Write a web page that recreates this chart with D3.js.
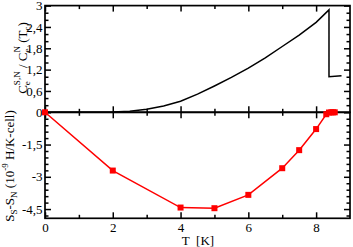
<!DOCTYPE html>
<html><head><meta charset="utf-8">
<script src="https://cdn.jsdelivr.net/npm/d3@7"></script>
<style>
html,body{margin:0;padding:0;background:#fff;}
svg{display:block;}
text{font-family:"Liberation Serif","Times New Roman",serif;fill:#000;}
</style></head>
<body>
<svg id="c" width="353" height="247"></svg>
<script>
// ---- data ----
const topT = [0, 1, 2, 2.5, 3, 3.5, 4, 4.5, 5, 5.5, 6, 6.5, 7, 7.5, 8, 8.38, 8.38, 8.75];
const topC = [0, 0, 0.005, 0.03, 0.085, 0.18, 0.31, 0.51, 0.74, 0.98, 1.24, 1.53, 1.85, 2.17, 2.53, 2.88, 1.0, 1.03];
const botT = [0, 2, 4, 5, 6, 7, 7.5, 8, 8.3, 8.38, 8.45, 8.5, 8.55];
const botS = [0, -2.71, -4.43, -4.46, -3.84, -2.60, -1.76, -0.78, -0.09, -0.01, 0, 0, 0];
const xMajor = [0, 2, 4, 6, 8];
const xMinor = [1, 3, 5, 7];
const xLabels = ["0", "2", "4", "6", "8"];
const topMajor = [0, 0.6, 1.2, 1.8, 2.4, 3];
const topLabels = ["0", "0,6", "1,2", "1,8", "2,4", "3"];
const topMinor = [0.2, 0.4, 0.8, 1.0, 1.4, 1.6, 2.0, 2.2, 2.6, 2.8];
const botMajor = [-1.5, -3, -4.5];
const botLabels = ["-1,5", "-3", "-4,5"];
const botMinor = [-0.3, -0.6, -0.9, -1.2, -1.8, -2.1, -2.4, -2.7, -3.3, -3.6, -3.9, -4.2, -4.8];

const svg = d3.select("#c");
const x = d3.scaleLinear().domain([0, 9]).range([45, 350]);
const yT = d3.scaleLinear().domain([0, 3]).range([112.3, 5.6]);
const yB = d3.scaleLinear().domain([-4.93, 0]).range([218.3, 112.3]);

const MAJ = 6, MIN = 3.5;
function styleAxis(g){
  g.select(".domain").remove();
  g.selectAll(".tick line").attr("stroke","#000").attr("stroke-width",1.5);
  g.selectAll("text").attr("font-size",13).attr("font-family",'"Liberation Serif","Times New Roman",serif');
}
function addAxis(gen, tr){
  svg.append("g").attr("transform", tr).call(gen).call(styleAxis);
}
const xL = x.range()[0], xR = x.range()[1];
const yTop = yT.range()[1], yMid = yT.range()[0], yBot = yB.range()[0];

// x axes
addAxis(d3.axisTop(x).tickValues(xMajor).tickSize(-MAJ).tickFormat(""), `translate(0,${yTop})`);
addAxis(d3.axisTop(x).tickValues(xMinor).tickSize(-MIN).tickFormat(""), `translate(0,${yTop})`);
addAxis(d3.axisBottom(x).tickValues(xMajor).tickSize(-MAJ).tickFormat(""), `translate(0,${yMid})`);
addAxis(d3.axisBottom(x).tickValues(xMinor).tickSize(-MIN).tickFormat(""), `translate(0,${yMid})`);
addAxis(d3.axisTop(x).tickValues(xMajor).tickSize(-MAJ).tickFormat(""), `translate(0,${yMid})`);
addAxis(d3.axisTop(x).tickValues(xMinor).tickSize(-MIN).tickFormat(""), `translate(0,${yMid})`);
addAxis(d3.axisBottom(x).tickValues(xMajor).tickSize(-MAJ).tickPadding(4).tickFormat((d,i)=>xLabels[i]), `translate(0,${yBot})`);
addAxis(d3.axisBottom(x).tickValues(xMinor).tickSize(-MIN).tickFormat(""), `translate(0,${yBot})`);

// y axes top
addAxis(d3.axisLeft(yT).tickValues(topMajor).tickSize(-MAJ).tickPadding(2.5).tickFormat((d,i)=>topLabels[i]), `translate(${xL},0)`);
addAxis(d3.axisLeft(yT).tickValues(topMinor).tickSize(-MIN).tickFormat(""), `translate(${xL},0)`);
addAxis(d3.axisRight(yT).tickValues(topMajor).tickSize(-MAJ).tickFormat(""), `translate(${xR},0)`);
addAxis(d3.axisRight(yT).tickValues(topMinor).tickSize(-MIN).tickFormat(""), `translate(${xR},0)`);
// y axes bottom
addAxis(d3.axisLeft(yB).tickValues(botMajor).tickSize(-MAJ).tickPadding(2.5).tickFormat((d,i)=>botLabels[i]), `translate(${xL},0)`);
addAxis(d3.axisLeft(yB).tickValues(botMinor).tickSize(-MIN).tickFormat(""), `translate(${xL},0)`);
addAxis(d3.axisRight(yB).tickValues(botMajor).tickSize(-MAJ).tickFormat(""), `translate(${xR},0)`);
addAxis(d3.axisRight(yB).tickValues(botMinor).tickSize(-MIN).tickFormat(""), `translate(${xR},0)`);

// frames
svg.append("rect").attr("x",xL).attr("y",yTop).attr("width",xR-xL).attr("height",yMid-yTop)
  .attr("fill","none").attr("stroke","#000").attr("stroke-width",1.7);
svg.append("rect").attr("x",xL).attr("y",yMid).attr("width",xR-xL).attr("height",yBot-yMid)
  .attr("fill","none").attr("stroke","#000").attr("stroke-width",1.7);

// top curve
const topData = topT.map((t,i)=>({t, v: topC[i]}));
svg.append("path").datum(topData)
  .attr("d", d3.line().x(d=>x(d.t)).y(d=>yT(d.v)))
  .attr("fill","none").attr("stroke","#000").attr("stroke-width",1.5);

// bottom series
const botData = botT.map((t,i)=>({t, v: botS[i]}));
svg.append("path").datum(botData)
  .attr("d", d3.line().x(d=>x(d.t)).y(d=>yB(d.v)))
  .attr("fill","none").attr("stroke","#ff0000").attr("stroke-width",1.5);
const ms = 6;
svg.selectAll("rect.m").data(botData).enter().append("rect").attr("class","m")
  .attr("x", d=>x(d.t)-ms/2).attr("y", d=>yB(d.v)-ms/2)
  .attr("width", ms).attr("height", ms).attr("fill","#ff0000");

// axis title
svg.append("text").attr("x", 198).attr("y", 245).attr("text-anchor","middle")
  .attr("font-size",13).attr("xml:space","preserve").text("T  [K]");

// top y label
const t1 = svg.append("text").attr("transform","translate(27,58) rotate(-90)")
  .attr("text-anchor","middle").attr("font-size",13);
t1.append("tspan").text("C");
t1.append("tspan").attr("font-size",9).attr("dy",3).text("e");
t1.append("tspan").attr("font-size",9).attr("dx",-4).attr("dy",-10).text("S,N");
t1.append("tspan").attr("dy",7).text(" / C");
t1.append("tspan").attr("font-size",9).attr("dy",3).text("e");
t1.append("tspan").attr("font-size",9).attr("dx",-4).attr("dy",-10).text("N");
t1.append("tspan").attr("dy",7).text(" (T");
t1.append("tspan").attr("font-size",9).attr("dy",3).text("c");
t1.append("tspan").attr("dy",-3).text(")");

// bottom y label
const t2 = svg.append("text").attr("transform","translate(14,166) rotate(-90)")
  .attr("text-anchor","middle").attr("font-size",13);
t2.append("tspan").text("S");
t2.append("tspan").attr("font-size",9).attr("dy",3).text("S");
t2.append("tspan").attr("dy",-3).text("-S");
t2.append("tspan").attr("font-size",9).attr("dy",3).text("N");
t2.append("tspan").attr("dy",-3).text(" (10");
t2.append("tspan").attr("font-size",9).attr("dy",-6).text("-9");
t2.append("tspan").attr("dy",6).text(" H/K-cell)");
</script>
</body></html>
